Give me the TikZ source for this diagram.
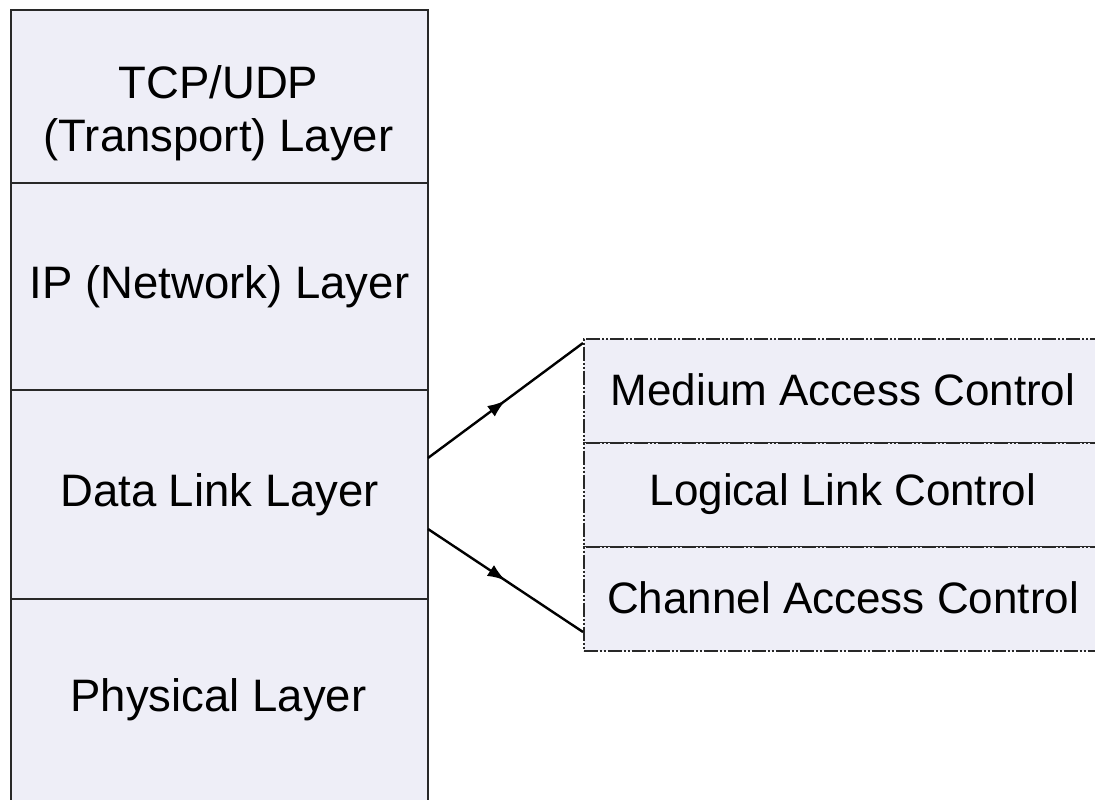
\documentclass[tikz,border=0pt]{standalone}
\usepackage{fontspec}
\setmainfont{Liberation Sans}
\usetikzlibrary{decorations.markings,arrows.meta}
\definecolor{boxfill}{RGB}{238,238,247}
\definecolor{boxline}{RGB}{40,40,40}
\begin{document}
\begin{tikzpicture}[x=1pt,y=-1pt,
  layer/.style={draw=boxline,line width=2.2pt,fill=boxfill,anchor=north west,inner sep=0pt,minimum width=417pt},
  sublayer/.style={draw=boxline,line width=1.8pt,fill=boxfill,anchor=north west,inner sep=0pt,minimum width=520pt,minimum height=104pt,
     dash pattern=on 14pt off 2pt on 2pt off 2pt on 2pt off 2pt},
  ltext/.style={font=\fontsize{45.5}{53}\selectfont,align=center,inner sep=0pt},
  rtext/.style={font=\fontsize{44}{50}\selectfont,align=center,inner sep=0pt},
  midarrow/.style={line width=2.4pt,decoration={markings,mark=at position 0.5 with {\arrow{Latex[length=18pt,width=13pt]}}},postaction={decorate}}]
\useasboundingbox (0,0) rectangle (1095,800);
% left stack
\node[layer,minimum height=173pt] (tcp) at (10,9) {};
\node[layer,minimum height=207pt] (ip) at (10,182) {};
\node[layer,minimum height=209pt] (dl) at (10,389) {};
\node[layer,minimum height=207pt] (phy) at (10,598) {};
\node[ltext] (tcpt) at (218.5,113) {TCP/UDP\\(Transport) Layer};
\node[ltext] (ipt) at (ip.center) {IP (Network) Layer};
\node[ltext] (dlt) at (dl.center) {Data Link Layer};
\node[ltext] (phyt) at (218.5,700) {Physical Layer};
% right stack
\node[sublayer] (mac) at (583,338) {};
\node[sublayer] (llc) at (583,442) {};
\node[sublayer] (cac) at (583,546) {};
\node[rtext] (mact) at (843,390) {Medium Access Control};
\node[rtext] (llct) at (843,494) {Logical Link Control};
\node[rtext] (cact) at (843,598) {Channel Access Control};
% connectors
\coordinate (a1) at (428,458);
\coordinate (a2) at (428,529);
\coordinate (b1) at (583,343);
\coordinate (b2) at (583,632);
\draw[midarrow] (a1) -- (b1);
\draw[midarrow] (a2) -- (b2);
\end{tikzpicture}
\end{document}
